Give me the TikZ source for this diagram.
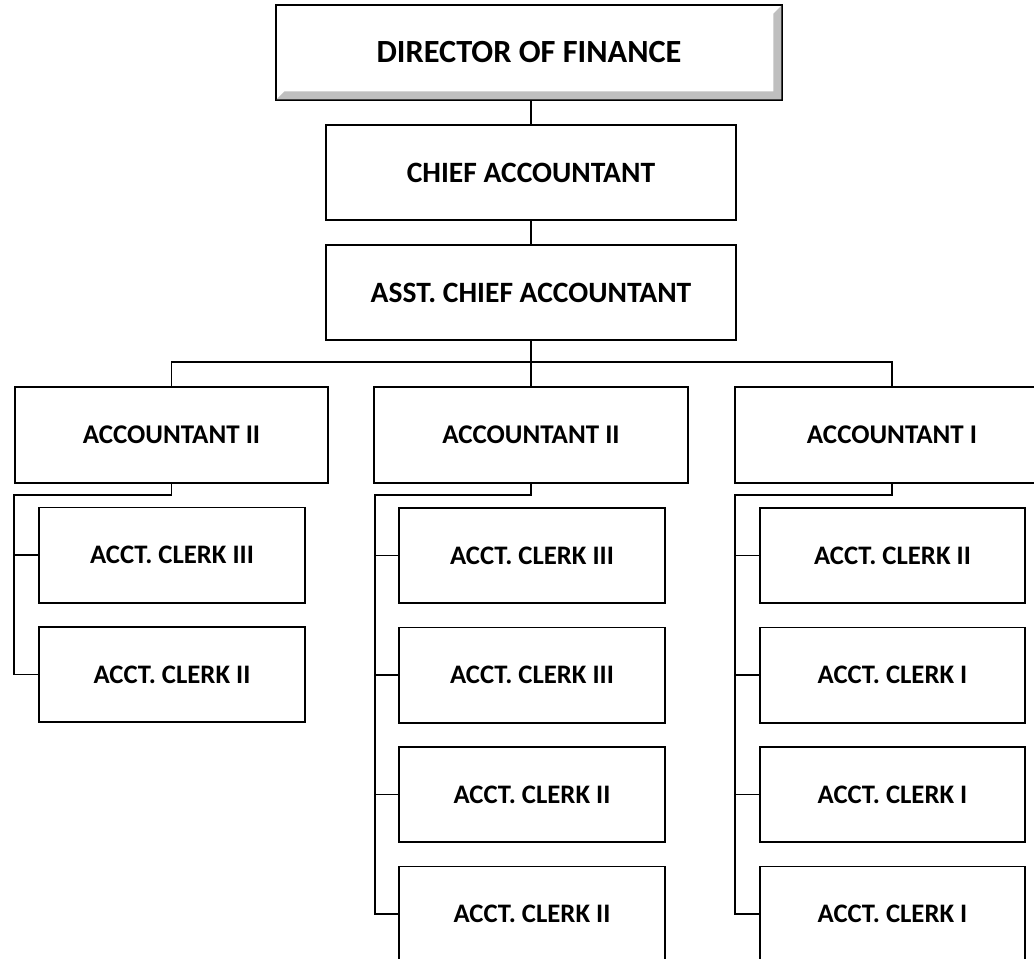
\documentclass[tikz,border=0pt]{standalone}
\usepackage{fontspec}
\setmainfont{Carlito}
\usetikzlibrary{positioning}
\tikzset
{
    posbox/.style  = {draw=black, fill=white, line width=1.4pt, align=center, inner sep=0pt, font=\bfseries\fontsize{19.2}{23}\selectfont},
    headbox/.style = {posbox, line width=2pt, minimum width=12.65cm, minimum height=2.375cm, font=\bfseries\fontsize{23}{27}\selectfont},
    chiefbox/.style = {posbox, minimum width=10.25cm, minimum height=2.375cm, font=\bfseries\fontsize{21}{25}\selectfont},
    acctbox/.style = {posbox, minimum width=7.825cm, minimum height=2.4cm},
    clerkbox/.style = {posbox, minimum width=6.625cm, minimum height=2.375cm, font=\bfseries\fontsize{19}{23}\selectfont},
    link/.style    = {draw=black, line width=1.3pt}
}
\begin{document}
\begin{tikzpicture}[x=0.025cm, y=-0.025cm]
    \useasboundingbox (0,0) rectangle (1034,959);
    \clip (0,0) rectangle (1034,959);

    \node [headbox] (dir) at (529,52.5) {DIRECTOR OF FINANCE};
    \fill [gray!50] ([shift={(2,-2)}]dir.south west) -- ([shift={(-2,-2)}]dir.south east)
        -- ([shift={(-2,2)}]dir.north east) -- ([shift={(-10,10)}]dir.north east)
        -- ([shift={(-10,-10)}]dir.south east) -- ([shift={(10,-10)}]dir.south west) -- cycle;

    \node [chiefbox] (chief) at (531,172.5) {CHIEF ACCOUNTANT};
    \node [chiefbox] (asst)  at (531,292.5) {ASST. CHIEF ACCOUNTANT};

    \node [acctbox] (accL) at (171.5,435) {ACCOUNTANT II};
    \node [acctbox] (accM) at (531,435)   {ACCOUNTANT II};
    \node [acctbox] (accR) at (892,435)   {ACCOUNTANT I};

    \node [clerkbox] (clkL1) at (172,555)   {ACCT. CLERK III};
    \node [clerkbox] (clkL2) at (172,674.5) {ACCT. CLERK II};

    \node [clerkbox] (clkM1) at (532,555.5) {ACCT. CLERK III};
    \node [clerkbox] (clkM2) at (532,675)   {ACCT. CLERK III};
    \node [clerkbox] (clkM3) at (532,794.5) {ACCT. CLERK II};
    \node [clerkbox] (clkM4) at (532,914)   {ACCT. CLERK II};

    \node [clerkbox] (clkR1) at (892.5,555.5) {ACCT. CLERK II};
    \node [clerkbox] (clkR2) at (892.5,675)   {ACCT. CLERK I};
    \node [clerkbox] (clkR3) at (892.5,794.5) {ACCT. CLERK I};
    \node [clerkbox] (clkR4) at (892.5,914)   {ACCT. CLERK I};

    \coordinate (bus) at (531,362);
    \coordinate (spineL) at (14,495);
    \coordinate (spineM) at (375,495);
    \coordinate (spineR) at (735,495);

    \draw [link] (chief.north |- dir.south) -- (chief.north);
    \draw [link] (chief.south) -- (asst.north);
    \draw [link] (asst.south) -- (bus);
    \draw [link] (accL.north) |- (bus) -| (accR.north);
    \draw [link] (bus) -- (accM.north);

    \draw [link] (accL.south) |- (spineL) |- (clkL2.west);
    \draw [link] (spineL |- clkL1.west) -- (clkL1.west);

    \draw [link] (accM.south) |- (spineM) |- (clkM4.west);
    \foreach \k in {clkM1,clkM2,clkM3}
        \draw [link] (spineM |- \k.west) -- (\k.west);

    \draw [link] (accR.south) |- (spineR) |- (clkR4.west);
    \foreach \k in {clkR1,clkR2,clkR3}
        \draw [link] (spineR |- \k.west) -- (\k.west);
\end{tikzpicture}
\end{document}
